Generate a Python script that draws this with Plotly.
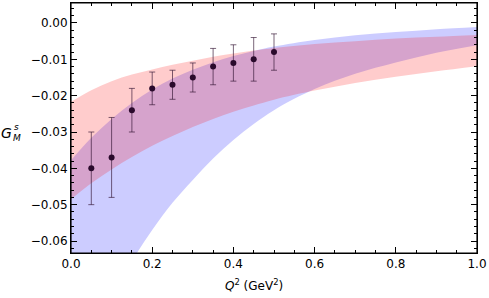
import plotly.graph_objects as go

# Band curves
q_band = [0, 0.05, 0.1, 0.15, 0.2, 0.25, 0.3, 0.35, 0.4, 0.45, 0.5, 0.6, 0.7, 0.8, 0.9, 1.0]
red_upper = [-0.0217, -0.0185, -0.0160, -0.0142, -0.0128, -0.0115, -0.0104, -0.0093, -0.0084,
             -0.0076, -0.0069, -0.0058, -0.0050, -0.0043, -0.0038, -0.0033]
red_lower = [-0.0485, -0.0441, -0.0403, -0.0369, -0.0338, -0.0311, -0.0286, -0.0264, -0.0244,
             -0.0227, -0.0211, -0.0186, -0.0165, -0.0148, -0.0133, -0.0119]
blue_upper = [-0.0378, -0.0316, -0.0264, -0.0220, -0.0183, -0.0153, -0.0129, -0.0108, -0.0091,
              -0.0077, -0.0065, -0.0047, -0.0034, -0.0025, -0.0017, -0.0011]
blue_lower = [-0.099, -0.086, -0.075, -0.0655, -0.0570, -0.0495, -0.0432, -0.0373, -0.0322,
              -0.0278, -0.0240, -0.0182, -0.0140, -0.0109, -0.0082, -0.0061]

# Data points
q_pts = [0.05, 0.10, 0.15, 0.20, 0.25, 0.30, 0.35, 0.40, 0.45, 0.50]
gms = [-0.040, -0.037, -0.024, -0.018, -0.017, -0.015, -0.012, -0.011, -0.010, -0.008]
gms_err = [0.010, 0.011, 0.006, 0.0045, 0.004, 0.004, 0.005, 0.005, 0.006, 0.005]

x_ticks = [0.0, 0.2, 0.4, 0.6, 0.8, 1.0]
x_ticktext = ["0.0", "0.2", "0.4", "0.6", "0.8", "1.0"]
y_ticks = [0.0, -0.01, -0.02, -0.03, -0.04, -0.05, -0.06]
y_ticktext = ["0.00", "\u22120.01", "\u22120.02", "\u22120.03", "\u22120.04", "\u22120.05", "\u22120.06"]

FONT = "DejaVu Sans"

fig = go.Figure()

# blue band
fig.add_trace(go.Scatter(x=q_band, y=blue_lower, mode="lines", line=dict(width=0, shape="spline"),
                         showlegend=False, hoverinfo="skip"))
fig.add_trace(go.Scatter(x=q_band, y=blue_upper, mode="lines", line=dict(width=0, shape="spline"),
                         fill="tonexty", fillcolor="rgba(0,0,255,0.2)", showlegend=False, hoverinfo="skip"))
# red band
fig.add_trace(go.Scatter(x=q_band, y=red_lower, mode="lines", line=dict(width=0, shape="spline"),
                         showlegend=False, hoverinfo="skip"))
fig.add_trace(go.Scatter(x=q_band, y=red_upper, mode="lines", line=dict(width=0, shape="spline"),
                         fill="tonexty", fillcolor="rgba(255,0,0,0.2)", showlegend=False, hoverinfo="skip"))

# points
fig.add_trace(go.Scatter(
    x=q_pts, y=gms, mode="markers",
    marker=dict(size=6, color="#2a0a2c"),
    error_y=dict(type="data", array=gms_err, visible=True, color="rgba(50,20,50,0.65)",
                 thickness=1, width=3),
    showlegend=False))

axis_common = dict(
    showline=True, linecolor="black", linewidth=1, mirror="allticks",
    ticks="inside", ticklen=6, tickwidth=1, tickcolor="black",
    showgrid=False, zeroline=False,
    tickfont=dict(family=FONT, size=12, color="black"),
)

fig.update_xaxes(range=[0, 1], tickvals=x_ticks, ticktext=x_ticktext,
                 minor=dict(dtick=0.05, tick0=0, ticks="inside", ticklen=3, tickcolor="black", showgrid=False),
                 **axis_common)
fig.update_yaxes(range=[-0.0633, 0.0055], tickvals=y_ticks, ticktext=y_ticktext,
                 minor=dict(dtick=0.002, tick0=0, ticks="inside", ticklen=3, tickcolor="black", showgrid=False),
                 **axis_common)

# frame
fig.add_shape(type="rect", xref="paper", yref="paper", x0=0, y0=0, x1=1, y1=1,
              line=dict(color="black", width=1.2), layer="above")

# axis labels
fig.add_annotation(text="<i>Q</i><sup>2</sup> (GeV<sup>2</sup>)", xref="paper", yref="paper",
                   x=(254 - 70.7) / 406.3, y=(252.7 - 285) / 250, showarrow=False,
                   font=dict(family=FONT, size=12, color="black"), xanchor="center", yanchor="middle")
fig.add_annotation(text="<i>G</i>", xref="paper", yref="paper",
                   x=(6 - 70.7) / 406.3, y=(252.7 - 133) / 250, showarrow=False,
                   font=dict(family=FONT, size=14, color="black"), xanchor="center", yanchor="middle")
fig.add_annotation(text="<i>s</i>", xref="paper", yref="paper",
                   x=(16 - 70.7) / 406.3, y=(252.7 - 127) / 250, showarrow=False,
                   font=dict(family=FONT, size=9, color="black"), xanchor="center", yanchor="middle")
fig.add_annotation(text="<i>M</i>", xref="paper", yref="paper",
                   x=(16.5 - 70.7) / 406.3, y=(252.7 - 138) / 250, showarrow=False,
                   font=dict(family=FONT, size=9, color="black"), xanchor="center", yanchor="middle")

fig.update_layout(
    width=489, height=298,
    margin=dict(l=71, r=12, t=3, b=45),
    paper_bgcolor="white", plot_bgcolor="white",
    font=dict(family=FONT, size=12, color="black"),
)

fig.write_html("out.html", config={"displayModeBar": False},
               post_script="document.body.style.margin='0px';")
